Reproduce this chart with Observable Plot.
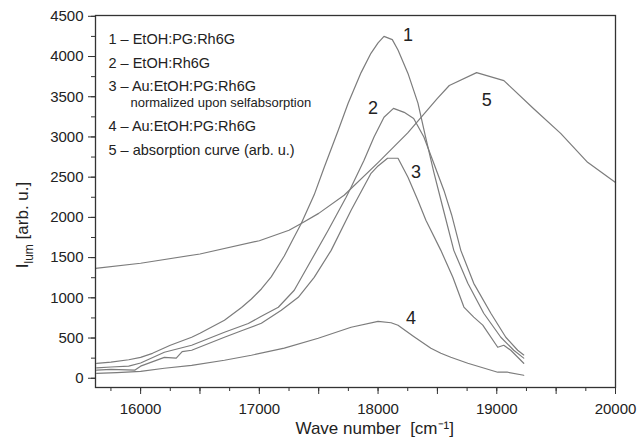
<!DOCTYPE html>
<html><head><meta charset="utf-8">
<script src="https://cdn.jsdelivr.net/npm/d3@7"></script>
<script src="https://cdn.jsdelivr.net/npm/@observablehq/plot@0.6"></script>
<style>body{margin:0;background:#fff} #chart svg{font-family:"Liberation Sans",Arial,sans-serif}</style>
</head><body><div id="chart"></div>
<script>
// Curve 1 – EtOH:PG:Rh6G
const wave1 = [15630,15750,15900,16000,16100,16250,16430,16500,16706,16850,16933,17017,17100,17210,17280,17353,17462,17546,17664,17748,17857,17940,18000,18050,18120,18168,18252,18336,18400,18470,18546,18638,18756,18890,19034,19143,19227];
const lum1  = [185,200,230,260,310,410,510,560,720,880,985,1110,1260,1520,1720,1925,2280,2620,3080,3420,3800,4040,4170,4250,4210,4080,3790,3420,3000,2560,2120,1590,1180,808,510,348,250];
// Curve 2 – EtOH:Rh6G
const wave2 = [15630,15750,15900,16000,16200,16430,16706,16907,17017,17160,17294,17437,17580,17731,17773,17882,17966,18050,18130,18220,18300,18386,18470,18555,18620,18697,18806,18950,19076,19176,19227];
const lum2  = [130,140,150,190,323,410,572,680,770,883,1094,1467,1840,2250,2375,2710,3000,3245,3355,3306,3230,3000,2670,2335,2030,1590,1180,808,510,348,290];
// Curve 3 – Au:EtOH:PG:Rh6G normalized upon selfabsorption
const wave3 = [15630,15750,15950,16000,16200,16300,16350,16430,16706,16850,17017,17185,17328,17462,17605,17773,17941,18000,18080,18168,18252,18336,18403,18529,18630,18723,18806,18882,19008,19059,19118,19227];
const lum3  = [100,110,100,150,260,250,330,348,510,590,684,845,1007,1255,1590,2088,2548,2640,2735,2735,2500,2210,1965,1590,1255,885,760,660,385,410,348,186];
// Curve 4 – Au:EtOH:PG:Rh6G
const wave4 = [15630,15800,16000,16200,16430,16706,16933,17210,17496,17773,18000,18110,18168,18300,18445,18529,18613,18756,19008,19092,19227];
const lum4  = [60,70,85,124,160,224,286,375,497,634,708,690,659,520,373,311,261,186,75,75,37];
// Curve 5 – absorption curve (arb. u.)
const wave5 = [15620,16000,16500,17000,17250,17353,17500,17714,18000,18250,18500,18600,18830,19060,19311,19538,19765,20000];
const lum5  = [1365,1430,1545,1710,1840,1925,2050,2275,2680,3050,3480,3640,3800,3700,3350,3045,2685,2435];

const curveIds = ["1","2","3","4","5"];
const labelWave = [18252,17958,18319,18277,18916];
const labelLum  = [4260,3356,2560,746,3455];

const legendItems = ["1 – EtOH:PG:Rh6G","2 – EtOH:Rh6G","3 – Au:EtOH:PG:Rh6G","normalized upon selfabsorption","4 – Au:EtOH:PG:Rh6G","5 – absorption curve (arb. u.)"];

const xMajor = d3.range(16000, 20001, 500);
const xMinor = d3.range(15750, 20001, 250);
const yMajor = d3.range(0, 4501, 500);
const yMinor = d3.range(0, 4501, 250);
const xLabel = "Wave number  [cm⁻¹]";

const waves = [wave1,wave2,wave3,wave4,wave5];
const lums = [lum1,lum2,lum3,lum4,lum5];
const rows = curveIds.flatMap((id,i) => waves[i].map((w,j) => ({id, w, v: lums[i][j]})));
const labels = curveIds.map((id,i) => ({id, w: labelWave[i], v: labelLum[i]}));

const legendDy = [18, 42, 65, 82, 105, 129];
const legendMarks = legendItems.map((t,i) => Plot.text([t], {
  frameAnchor: "top-left", text: d => d, textAnchor: "start",
  dx: i === 3 ? 35 : 13, dy: legendDy[i], fontSize: i === 3 ? 13 : 14.5, fill: "#222"
}));

const chart = Plot.plot({
  width: 638, height: 445,
  marginLeft: 95, marginRight: 23, marginTop: 15, marginBottom: 58,
  style: {fontFamily: "Liberation Sans, Arial, sans-serif", fontSize: "15px", color: "#222", background: "#fff"},
  x: {domain: [15620, 20000]},
  y: {domain: [-115, 4510]},
  marks: [
    Plot.line(rows, {x: "w", y: "v", z: "id", stroke: "#7c7c7c", strokeWidth: 1.2}),
    Plot.frame({stroke: "#333", strokeWidth: 1.3}),
    Plot.axisX(xMinor, {tickSize: 4, tickFormat: () => "", label: null, stroke: "#333"}),
    Plot.axisX(xMajor, {tickSize: 7, tickPadding: 9, tickFormat: d => d % 1000 === 0 ? String(d) : "", label: null, stroke: "#333", fontSize: 15}),
    Plot.axisY(yMinor, {tickSize: 4, tickFormat: () => "", label: null, stroke: "#333"}),
    Plot.axisY(yMajor, {tickSize: 7, tickPadding: 5, tickFormat: d => String(d), label: null, stroke: "#333", fontSize: 15}),
    Plot.text(labels, {x: "w", y: "v", text: "id", fontSize: 18, fill: "#222"}),
    Plot.text([xLabel], {frameAnchor: "bottom-left", text: d => d, textAnchor: "start", dx: 200, dy: 46, fontSize: 17, fill: "#222"}),
    ...legendMarks
  ]
});
document.getElementById("chart").appendChild(chart);

// y-axis label with subscript
const svg = d3.select(chart);
const t = svg.append("text")
  .attr("transform", "translate(28,225) rotate(-90)")
  .attr("text-anchor", "middle")
  .attr("font-size", 17).attr("fill", "#222");
t.append("tspan").text("I");
t.append("tspan").attr("font-size", 12).attr("dy", 5).text("lum");
t.append("tspan").attr("dy", -5).text(" [arb. u.]");
</script>
</body></html>
